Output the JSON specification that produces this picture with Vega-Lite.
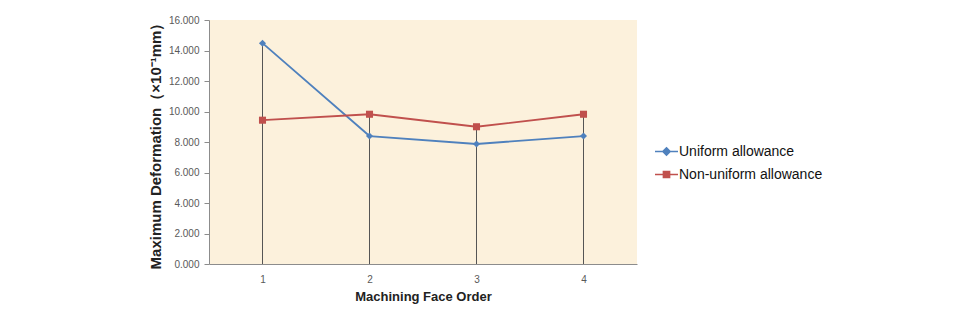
{
  "$schema": "https://vega.github.io/schema/vega-lite/v6.json",
  "width": 428,
  "height": 244,
  "autosize": {"type": "none"},
  "padding": {"left": 209, "top": 20, "right": 334, "bottom": 46},
  "background": "#ffffff",
  "config": {
    "view": {"fill": "#FCF1DC", "stroke": null},
    "font": "Liberation Sans",
    "axis": {"grid": false}
  },
  "data": {
    "values": [
      {"order": "1", "series": "Uniform allowance", "value": 14.48},
      {"order": "2", "series": "Uniform allowance", "value": 8.39},
      {"order": "3", "series": "Uniform allowance", "value": 7.87},
      {"order": "4", "series": "Uniform allowance", "value": 8.39},
      {"order": "1", "series": "Non-uniform allowance", "value": 9.43},
      {"order": "2", "series": "Non-uniform allowance", "value": 9.82},
      {"order": "3", "series": "Non-uniform allowance", "value": 9.0},
      {"order": "4", "series": "Non-uniform allowance", "value": 9.82}
    ]
  },
  "encoding": {
    "x": {
      "field": "order",
      "type": "ordinal",
      "scale": {"type": "point", "padding": 0.5},
      "axis": {
        "title": "Machining Face Order",
        "labelAngle": 0,
        "ticks": false,
        "labelPadding": 10,
        "labelFontSize": 10,
        "labelColor": "#595959",
        "domainColor": "#8C8C8C",
        "titleFontSize": 13,
        "titleFontWeight": "bold",
        "titleColor": "#222222",
        "titlePadding": 6
      }
    },
    "y": {
      "field": "value",
      "type": "quantitative",
      "scale": {"domain": [0, 16], "nice": false},
      "axis": {
        "title": "Maximum Deformation（×10⁻¹mm）",
        "values": [0, 2, 4, 6, 8, 10, 12, 14, 16],
        "labelOverlap": false,
        "format": ".3f",
        "labelFontSize": 10,
        "labelColor": "#595959",
        "domainColor": "#8C8C8C",
        "tickColor": "#8C8C8C",
        "tickSize": 5,
        "labelPadding": 5,
        "titleFontSize": 15,
        "titleFontWeight": "bold",
        "titleColor": "#222222",
        "titlePadding": 5
      }
    }
  },
  "layer": [
    {
      "mark": {"type": "rule", "color": "#555555", "strokeWidth": 1},
      "encoding": {
        "y": {
          "aggregate": "max",
          "field": "value",
          "type": "quantitative",
          "axis": {
            "title": "Maximum Deformation（×10⁻¹mm）",
            "values": [0, 2, 4, 6, 8, 10, 12, 14, 16],
            "labelOverlap": false,
            "format": ".3f",
            "labelFontSize": 10,
            "labelColor": "#595959",
            "domainColor": "#8C8C8C",
            "tickColor": "#8C8C8C",
            "tickSize": 5,
            "labelPadding": 5,
            "titleFontSize": 15,
            "titleFontWeight": "bold",
            "titleColor": "#222222",
            "titlePadding": 5
          }
        },
        "y2": {"datum": 0}
      }
    },
    {
      "mark": {"type": "line", "strokeWidth": 1.8},
      "encoding": {
        "color": {
          "field": "series",
          "type": "nominal",
          "scale": {
            "domain": ["Uniform allowance", "Non-uniform allowance"],
            "range": ["#4F81BD", "#C0504D"]
          },
          "legend": {
            "title": null,
            "orient": "none",
            "legendX": 445,
            "legendY": 119,
            "labelFont": "Liberation Sans",
            "labelFontSize": 14,
            "labelColor": "#111111",
            "symbolSize": 529,
            "symbolStrokeWidth": 1.5,
            "rowPadding": 3,
            "labelOffset": 0,
            "encode": {
              "symbols": {
                "update": {
                  "shape": {"signal": "datum.value === 'Uniform allowance' ? 'M-1,0H1M0,-0.32L0.32,0L0,0.32L-0.32,0Z' : 'M-1,0H1M-0.27,-0.27H0.27V0.27H-0.27Z'"},
                  "fill": {"scale": "color", "field": "value"},
                  "stroke": {"scale": "color", "field": "value"},
                  "opacity": {"value": 1}
                }
              }
            }
          }
        }
      }
    },
    {
      "mark": {"type": "point", "filled": true, "opacity": 1},
      "encoding": {
        "color": {"field": "series", "type": "nominal"},
        "shape": {
          "condition": {"test": "datum.series === 'Uniform allowance'", "value": "diamond"},
          "value": "square"
        },
        "size": {"value": 50}
      }
    }
  ]
}
